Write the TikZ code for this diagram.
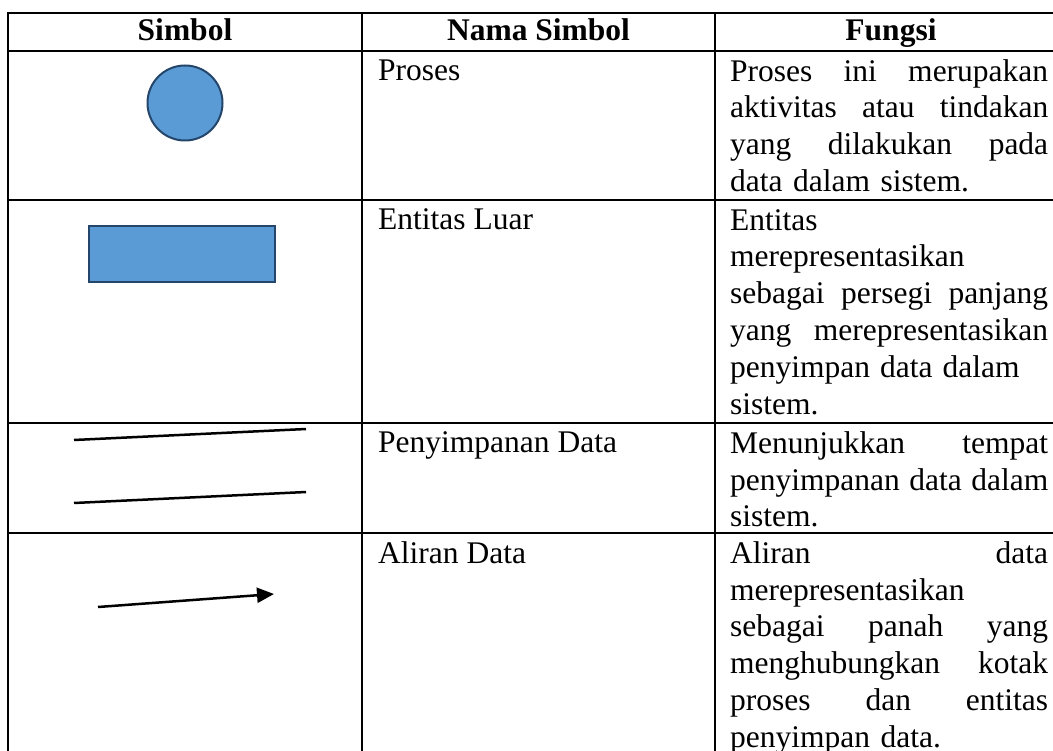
\documentclass[tikz,border=0pt]{standalone}
\usepackage{fontspec}
\setmainfont{Liberation Serif}
\usetikzlibrary{arrows.meta}
\definecolor{symblue}{HTML}{5B9BD5}
\definecolor{symedge}{HTML}{24466B}
\tikzset{
  gridline/.style={line width=2pt, black},
  headtxt/.style={inner sep=0pt, anchor=base, font=\fontsize{31.5}{36.8}\selectfont\bfseries},
  nametxt/.style={inner sep=0pt, anchor=base west, font=\fontsize{31.5}{36.8}\selectfont},
  paratxt/.style={inner sep=0pt, anchor=north west, text width=318pt,
    font=\fontsize{31.5}{36.8}\selectfont},
  symshape/.style={fill=symblue, draw=symedge, line width=2pt},
  storeline/.style={line width=2.5pt, black},
  flowline/.style={line width=2.5pt, black, -{Triangle[length=17pt,width=15pt]}}
}
\begin{document}
\begin{tikzpicture}[x=1pt,y=-1pt]
\useasboundingbox (0,0) rectangle (1053,751);
\clip (0,0) rectangle (1053,751);
\fill[white] (0,0) rectangle (1053,751);

% table grid
\foreach \yy in {13,51,200,423,533}
  \draw[gridline] (7,\yy) -- (1060,\yy);
\foreach \xx in {8,362,715}
  \draw[gridline] (\xx,12) -- (\xx,760);

% header
\node[headtxt] (h1) at (185,41) {Simbol};
\node[headtxt] (h2) at (538.5,41) {Nama Simbol};
\node[headtxt] (h3) at (891,41) {Fungsi};

% column 1: symbols
\node[symshape, circle, minimum size=75pt, inner sep=0pt] (proc) at (185,103) {};
\node[symshape, rectangle, minimum width=186pt, minimum height=56pt, inner sep=0pt] (ent) at (182,254) {};
\coordinate (s1a) at (74,440);
\coordinate (s1b) at (306,429);
\coordinate (s2a) at (74,503);
\coordinate (s2b) at (306,492);
\draw[storeline] (s1a) -- (s1b);
\draw[storeline] (s2a) -- (s2b);
\coordinate (fa) at (98,607);
\coordinate (fb) at (274,594);
\draw[flowline] (fa) -- (fb);

% column 2: names
\node[nametxt] (n1) at (378,81) {Proses};
\node[nametxt] (n2) at (378,230) {Entitas Luar};
\node[nametxt] (n3) at (378,453) {Penyimpanan Data};
\node[nametxt] (n4) at (378,563) {Aliran Data};

% column 3: functions
\node[paratxt] (f1) at (730,55.24) {\noindent\strut Proses\hfill ini\hfill merupakan\\
aktivitas\hfill atau\hfill tindakan\\
yang\hfill dilakukan\hfill pada\\
data dalam sistem.};
\node[paratxt] (f2) at (730,204.24) {\noindent\strut Entitas\\
merepresentasikan\\
sebagai\hfill persegi\hfill panjang\\
yang\hfill merepresentasikan\\
penyimpan\hspace{10pt}data\hspace{10pt}dalam\\
sistem.};
\node[paratxt] (f3) at (730,427.24) {\noindent\strut Menunjukkan\hfill tempat\\
penyimpanan\hfill data\hfill dalam\\
sistem.};
\node[paratxt] (f4) at (730,537.24) {\noindent\strut Aliran\hfill data\\
merepresentasikan\\
sebagai\hfill panah\hfill yang\\
menghubungkan\hfill kotak\\
proses\hfill dan\hfill entitas\\
penyimpan data.};
\end{tikzpicture}
\end{document}
